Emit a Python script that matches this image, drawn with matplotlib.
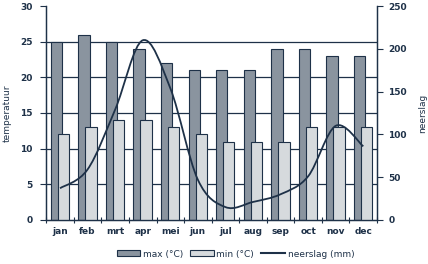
import numpy as np
import matplotlib
matplotlib.use("Agg")
import matplotlib.pyplot as plt
from matplotlib.path import Path
from matplotlib.patches import PathPatch
from matplotlib.lines import Line2D
from matplotlib.patches import Patch

# data
months = ["jan", "feb", "mrt", "apr", "mei", "jun", "jul", "aug", "sep", "oct", "nov", "dec"]
t_max = [25, 26, 25, 24, 22, 21, 21, 21, 24, 24, 23, 23]
t_min = [12, 13, 14, 14, 13, 12, 11, 11, 11, 13, 13, 13]
rain = [37, 59, 129, 210, 154, 47, 15, 21, 30, 51, 110, 86]

navy = "#1e3148"
dark_bar = "#8a949f"
light_bar = "#d6dadd"

fig = plt.figure(figsize=(4.28, 2.64), dpi=100)
ax = fig.add_axes([0.108, 0.167, 0.773, 0.81])
ax2 = ax.twinx()

x = np.arange(len(months))
w = 0.41
ax.bar(x - 0.13, t_max, w, color=dark_bar, edgecolor=navy, linewidth=0.8, zorder=2)
ax.bar(x + 0.12, t_min, w, color=light_bar, edgecolor=navy, linewidth=0.8, zorder=3)

ax.set_ylim(0, 30)
ax.set_xlim(-0.5, 11.5)
ax.set_yticks(range(0, 31, 5))
# horizontal grid lines, no line at the top
for gy in range(5, 30, 5):
    ax.axhline(gy, color=navy, linewidth=0.9, zorder=0)
ax.set_xticks(np.arange(-0.5, 12, 1))
ax.set_xticklabels([])
ax.set_xticks(x, minor=True)
ax.set_xticklabels(months, minor=True, fontsize=6.5, fontweight="bold", color=navy)
ax.tick_params(axis="x", which="minor", length=0, pad=5)
ax.tick_params(axis="x", which="major", length=4, direction="inout", color=navy)
ax.tick_params(axis="y", length=4, color=navy, labelsize=6.5, labelcolor=navy, pad=6)
for lab in ax.get_yticklabels():
    lab.set_fontweight("bold")
ax.set_ylabel("temperatuur", fontsize=6.5, color=navy, labelpad=6)

# smoothed rainfall line (Bezier through the monthly points)
pts = np.column_stack([x, rain]).astype(float)
verts = [tuple(pts[0])]
codes = [Path.MOVETO]
for i in range(len(pts) - 1):
    p0 = pts[i - 1] if i > 0 else pts[i]
    p1 = pts[i]
    p2 = pts[i + 1]
    p3 = pts[i + 2] if i + 2 < len(pts) else pts[i + 1]
    c1 = p1 + (p2 - p0) / 6
    c2 = p2 - (p3 - p1) / 6
    verts += [tuple(c1), tuple(c2), tuple(p2)]
    codes += [Path.CURVE4] * 3
ax2.add_patch(PathPatch(Path(verts, codes), facecolor="none", edgecolor=navy, linewidth=1.3, zorder=4))

ax2.set_ylim(0, 250)
ax2.set_yticks(range(0, 251, 50))
ax2.tick_params(axis="y", length=4, color=navy, labelsize=6.5, labelcolor=navy, pad=4)
for lab in ax2.get_yticklabels():
    lab.set_fontweight("bold")
ax2.set_ylabel("neerslag", fontsize=6.5, color=navy, labelpad=8)

for a in (ax, ax2):
    a.spines["top"].set_visible(False)
    for s in ("left", "right", "bottom"):
        a.spines[s].set_color(navy)
        a.spines[s].set_linewidth(0.9)

handles = [
    Patch(facecolor=dark_bar, edgecolor=navy, linewidth=0.8),
    Patch(facecolor=light_bar, edgecolor=navy, linewidth=0.8),
    Line2D([0], [0], color=navy, linewidth=1.5),
]
fig.legend(handles, ["max (°C)", "min (°C)", "neerslag (mm)"], loc="lower center",
           bbox_to_anchor=(0.55, -0.01), ncol=3, frameon=False, fontsize=6.5,
           labelcolor=navy, handlelength=2.6, handleheight=0.6, columnspacing=0.8,
           handletextpad=0.3)

fig.savefig("out.png", dpi=100)
